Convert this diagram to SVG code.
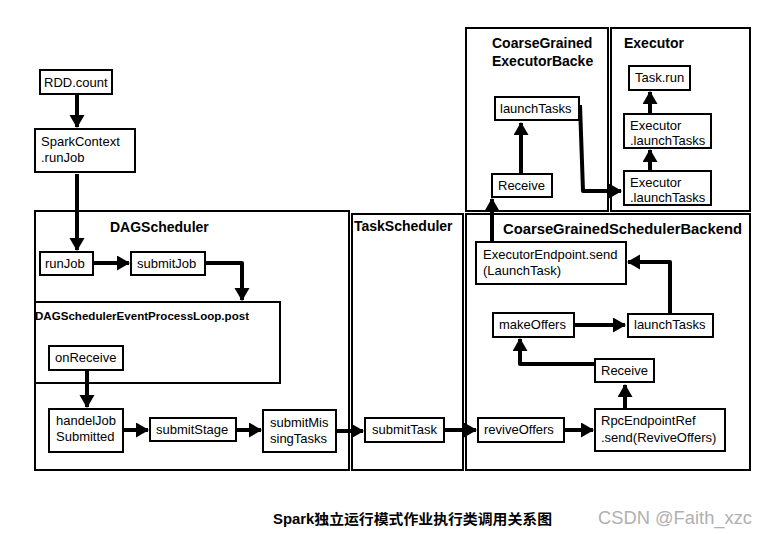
<svg xmlns="http://www.w3.org/2000/svg" width="766" height="534" viewBox="0 0 766 534">
<defs>
<style>
.box{fill:#fff;stroke:#000;stroke-width:2}
.cont{fill:#fff;stroke:#000;stroke-width:2}
.t{font-family:"Liberation Sans",Arial,sans-serif;font-size:13px;fill:#000}
.h{font-family:"Liberation Sans",Arial,sans-serif;font-size:14px;font-weight:bold;fill:#000}
.e{fill:none;stroke:#000;stroke-width:4;stroke-linejoin:round;marker-end:url(#ah)}
</style>
<marker id="ah" markerUnits="userSpaceOnUse" markerWidth="16" markerHeight="16" refX="12" refY="7.5" orient="auto">
<path d="M0,0 L13,7.5 L0,15 z" fill="#000"/>
</marker>
</defs>
<rect width="766" height="534" fill="#fff"/>

<g id="containers">
<rect id="DAGScheduler" class="cont" x="35" y="211" width="314" height="259"/>
<rect id="TaskScheduler" class="cont" x="352" y="214" width="111" height="256"/>
<rect id="CoarseGrainedSchedulerBackend" class="cont" x="466" y="214" width="284" height="256"/>
<rect id="CoarseGrainedExecutorBackend" class="cont" x="466" y="28" width="142" height="183"/>
<rect id="Executor" class="cont" x="611" y="28" width="139" height="183"/>
<rect id="EventLoop" class="cont" x="35" y="302" width="245" height="81"/>
<text class="h" x="110" y="232">DAGScheduler</text>
<text class="h" x="354" y="231">TaskScheduler</text>
<text class="h" x="503" y="234" textLength="239" lengthAdjust="spacingAndGlyphs">CoarseGrainedSchedulerBackend</text>
<text class="h" x="492" y="48">CoarseGrained</text>
<text class="h" x="492" y="66">ExecutorBacke</text>
<text class="h" x="624" y="48">Executor</text>
<text class="h" x="35" y="320" style="font-size:11px" textLength="214" lengthAdjust="spacingAndGlyphs">DAGSchedulerEventProcessLoop.post</text>
</g>

<g id="connectors">
<path class="e" d="M77,94 L77,127"/>
<path class="e" d="M77,174 L77,250"/>
<path class="e" d="M93,263 L129,263"/>
<path class="e" d="M205,263 L242,263 L242,300"/>
<path class="e" d="M87,370 L87,407"/>
<path class="e" d="M123,430 L148,430"/>
<path class="e" d="M237,430 L261,430"/>
<path class="e" d="M336,431 L363,431"/>
<path class="e" d="M444,430 L476,430"/>
<path class="e" d="M564,430 L593,430"/>
<path class="e" d="M625,409 L625,385"/>
<path class="e" d="M595,364 L520,364 L520,339"/>
<path class="e" d="M574,325 L625,325"/>
<path class="e" d="M670,313 L670,262 L628,262"/>
<path class="e" d="M492,243 L492,199"/>
<path class="e" d="M521,174 L521,123"/>
<path class="e" d="M580,105 L583,191 L621,191"/>
<path class="e" d="M650,171 L650,150"/>
<path class="e" d="M650,114 L650,92"/>
</g>

<g id="RDD.count"><rect class="box" x="40" y="70" width="72" height="24"/><text class="t" x="44" y="87">RDD.count</text></g>
<g id="SparkContext.runJob"><rect class="box" x="35" y="129" width="100" height="43"/><text class="t" x="41" y="146">SparkContext</text><text class="t" x="41" y="162">.runJob</text></g>
<g id="runJob"><rect class="box" x="40" y="252" width="53" height="23"/><text class="t" x="45" y="268">runJob</text></g>
<g id="submitJob"><rect class="box" x="131" y="252" width="74" height="23"/><text class="t" x="137" y="268">submitJob</text></g>
<g id="onReceive"><rect class="box" x="49" y="346" width="74" height="24"/><text class="t" x="55" y="362">onReceive</text></g>
<g id="handelJobSubmitted"><rect class="box" x="49" y="409" width="74" height="43"/><text class="t" x="56" y="425">handelJob</text><text class="t" x="56" y="441">Submitted</text></g>
<g id="submitStage"><rect class="box" x="150" y="418" width="86" height="23"/><text class="t" x="156" y="434">submitStage</text></g>
<g id="submitMissingTasks"><rect class="box" x="263" y="410" width="73" height="42"/><text class="t" x="270" y="427">submitMis</text><text class="t" x="270" y="443">singTasks</text></g>
<g id="submitTask"><rect class="box" x="365" y="418" width="79" height="24"/><text class="t" x="372" y="434">submitTask</text></g>
<g id="reviveOffers"><rect class="box" x="478" y="418" width="86" height="24"/><text class="t" x="484" y="434">reviveOffers</text></g>
<g id="RpcEndpointRef.send"><rect class="box" x="595" y="409" width="130" height="42"/><text class="t" x="601" y="425">RpcEndpointRef</text><text class="t" x="601" y="442">.send(ReviveOffers)</text></g>
<g id="Receive-backend"><rect class="box" x="595" y="359" width="59" height="23"/><text class="t" x="601" y="375">Receive</text></g>
<g id="makeOffers"><rect class="box" x="493" y="313" width="81" height="24"/><text class="t" x="499" y="329">makeOffers</text></g>
<g id="launchTasks-backend"><rect class="box" x="628" y="314" width="85" height="23"/><text class="t" x="634" y="329">launchTasks</text></g>
<g id="ExecutorEndpoint.send"><rect class="box" x="476" y="242" width="150" height="42"/><text class="t" x="483" y="259">ExecutorEndpoint.send</text><text class="t" x="483" y="275">(LaunchTask)</text></g>
<g id="Receive-executor-backend"><rect class="box" x="492" y="174" width="60" height="23"/><text class="t" x="498" y="190">Receive</text></g>
<g id="launchTasks-executor-backend"><rect class="box" x="495" y="97" width="84" height="23"/><text class="t" x="500" y="113">launchTasks</text></g>
<g id="Task.run"><rect class="box" x="629" y="66" width="61" height="24"/><text class="t" x="635" y="82">Task.run</text></g>
<g id="Executor.launchTasks-1"><rect class="box" x="624" y="114" width="87" height="34"/><text class="t" x="630" y="130">Executor</text><text class="t" x="630" y="145">.launchTasks</text></g>
<g id="Executor.launchTasks-2"><rect class="box" x="624" y="171" width="87" height="34"/><text class="t" x="630" y="187">Executor</text><text class="t" x="630" y="202">.launchTasks</text></g>

<text class="h" x="273" y="524" textLength="279" lengthAdjust="spacingAndGlyphs" style="font-family:'Liberation Sans','Noto Sans CJK SC',sans-serif">Spark独立运行模式作业执行类调用关系图</text>
<text x="598" y="524" textLength="154" lengthAdjust="spacingAndGlyphs" style="font-family:'Liberation Sans',Arial,sans-serif;font-size:18px;fill:#b0b0b0">CSDN @Faith_xzc</text>
</svg>
